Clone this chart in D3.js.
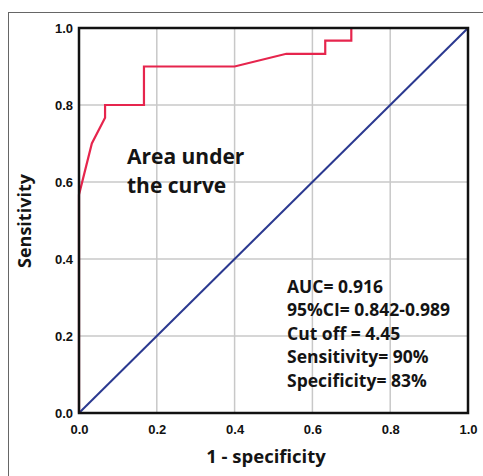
<!DOCTYPE html>
<html><head><meta charset="utf-8">
<script src="https://cdn.jsdelivr.net/npm/d3@7"></script>
<style>body{margin:0;background:#fff;}svg{display:block;}</style>
</head><body>
<script>
const rocFPR  = [0, 0, 0.033, 0.067, 0.067, 0.167, 0.167, 0.40, 0.533, 0.633, 0.633, 0.70, 0.70, 1.0];
const rocSens = [0, 0.567, 0.70, 0.767, 0.80, 0.80, 0.90, 0.90, 0.933, 0.933, 0.967, 0.967, 1.0, 1.0];
const refLine = [[0,0],[1,1]];
const tickVals = [0, 0.2, 0.4, 0.6, 0.8, 1.0];
const tickLabels = ["0.0","0.2","0.4","0.6","0.8","1.0"];
const titleLines = ["Area under", "the curve"];
const statLines = ["AUC= 0.916","95%CI= 0.842-0.989","Cut off = 4.45","Sensitivity= 90%","Specificity= 83%"];
const xLabel = "1 - specificity", yLabel = "Sensitivity";

const W = 483, H = 476;
const FONT = "'Open Sans', sans-serif";
const svg = d3.select("body").append("svg").attr("width", W).attr("height", H);
// outer frame
svg.append("rect").attr("x",8.5).attr("y",12.5).attr("width",W+20).attr("height",H+20)
  .attr("fill","none").attr("stroke","#666").attr("stroke-width",1);

const x = d3.scaleLinear().domain([0,1]).range([79,468]);
const y = d3.scaleLinear().domain([0,1]).range([413,28]);

// grid
const g = svg.append("g");
g.selectAll("line.vx").data(tickVals.slice(1,-1)).join("line")
  .attr("x1",d=>x(d)).attr("x2",d=>x(d)).attr("y1",y(0)).attr("y2",y(1))
  .attr("stroke","#c8c8c8").attr("stroke-width",1.5);
g.selectAll("line.hy").data(tickVals.slice(1,-1)).join("line")
  .attr("y1",d=>y(d)).attr("y2",d=>y(d)).attr("x1",x(0)).attr("x2",x(1))
  .attr("stroke","#c8c8c8").attr("stroke-width",1.5);

// axes labels via d3 axes
const fmt = (d,i)=>tickLabels[i];
const xa = svg.append("g").attr("transform",`translate(0,${y(0)})`)
  .call(d3.axisBottom(x).tickValues(tickVals).tickFormat(fmt).tickSize(0).tickPadding(12));
const ya = svg.append("g").attr("transform",`translate(${x(0)},0)`)
  .call(d3.axisLeft(y).tickValues(tickVals).tickFormat(fmt).tickSize(0).tickPadding(6));
[xa,ya].forEach(a=>{
  a.select(".domain").remove();
  a.selectAll("text").attr("font-family","Liberation Sans, Arial, sans-serif")
   .attr("font-weight","bold").attr("font-size",13).attr("fill","#111");
});

// diagonal
const line = d3.line().x(d=>x(d[0])).y(d=>y(d[1]));
svg.append("path").datum(refLine).attr("d",line).attr("fill","none")
  .attr("stroke","#2b3990").attr("stroke-width",2);
// ROC
svg.append("path").datum(rocFPR.map((f,i)=>[f,rocSens[i]])).attr("d",line)
  .attr("fill","none").attr("stroke","#e6254d").attr("stroke-width",2.2);

// plot frame
svg.append("rect").attr("x",x(0)).attr("y",y(1)).attr("width",x(1)-x(0)).attr("height",y(0)-y(1))
  .attr("fill","none").attr("stroke","#111").attr("stroke-width",2.5);

// title text
svg.append("g").selectAll("text").data(titleLines).join("text")
  .attr("x",127).attr("y",(d,i)=>164+i*29)
  .attr("font-family",FONT).attr("font-weight","bold").attr("font-size",21)
  .attr("fill","#141414").text(d=>d);

// stats
svg.append("g").selectAll("text").data(statLines).join("text")
  .attr("x",287).attr("y",(d,i)=>292.5+i*23.5)
  .attr("font-family",FONT).attr("font-weight","bold").attr("font-size",17.5)
  .attr("fill","#141414").text(d=>d);

// axis titles
svg.append("text").attr("x",266).attr("y",463).attr("text-anchor","middle")
  .attr("font-family",FONT).attr("font-weight","bold").attr("font-size",18.5)
  .attr("fill","#141414").text(xLabel);
svg.append("text").attr("transform","translate(31,221) rotate(-90)").attr("text-anchor","middle")
  .attr("font-family",FONT).attr("font-weight","bold").attr("font-size",18)
  .attr("fill","#141414").text(yLabel);
</script>
</body></html>
